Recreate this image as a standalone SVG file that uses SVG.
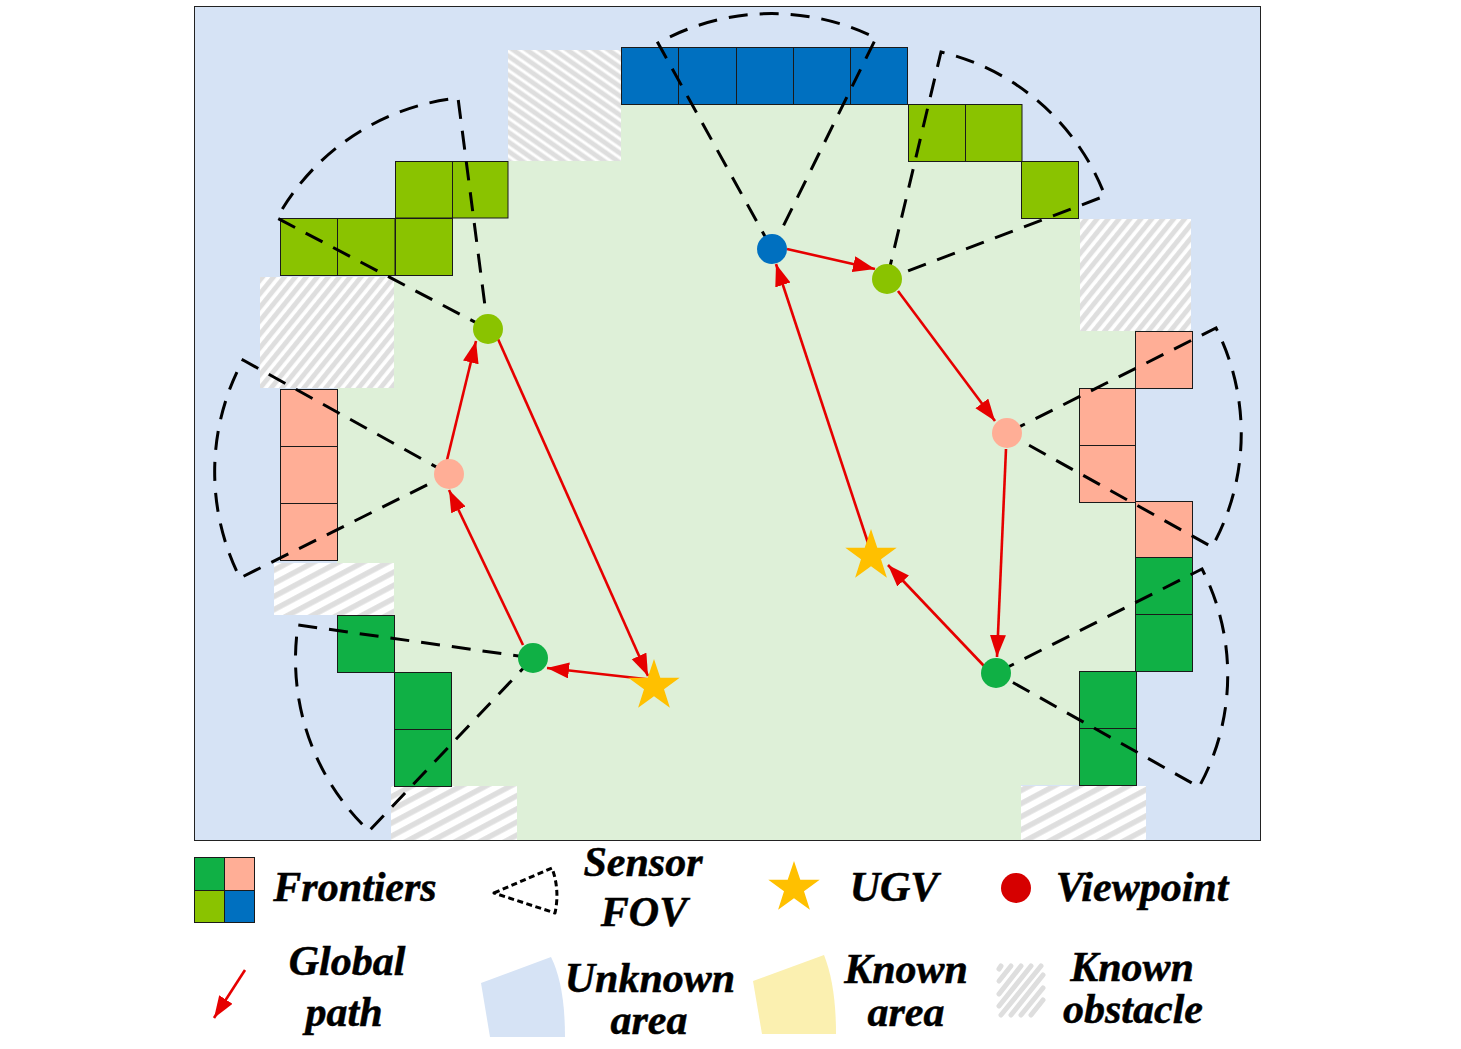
<svg xmlns="http://www.w3.org/2000/svg" width="1461" height="1049" viewBox="0 0 1461 1049">
<style>
.lbl{font-family:"Liberation Serif","Times New Roman",serif;font-weight:bold;font-style:italic;font-size:42px;fill:#000;stroke:#000;stroke-width:0.5;text-anchor:middle}
.fov{fill:none;stroke:#000;stroke-width:3;stroke-dasharray:19 12;stroke-dashoffset:-1}
.path{fill:none;stroke:#E60000;stroke-width:2.6;marker-end:url(#ah)}
.t{stroke:#1a1a1a;stroke-width:1}
.b{fill:#0070C0}.l{fill:#8AC300}.s{fill:#FFAE96}.g{fill:#10B045}
.hs{fill:url(#hatchS)}
.ht{fill:url(#hatchT)}
.hf{fill:url(#hatchF)}
.hl{stroke:#DEDEDE;stroke-width:5;stroke-linecap:round}
</style>
<defs>
<pattern id="hatchS" width="8.500" height="20" patternUnits="userSpaceOnUse" patternTransform="rotate(39)">
<rect width="8.500" height="20" fill="#fff"/><rect x="2" width="4.800" height="20" fill="#DEDEDE"/>
</pattern>
<pattern id="hatchT" width="7.800" height="20" patternUnits="userSpaceOnUse" patternTransform="rotate(-55)">
<rect width="7.800" height="20" fill="#fff"/><rect x="1.500" width="4.800" height="20" fill="#DEDEDE"/>
</pattern>
<pattern id="hatchF" width="11.600" height="20" patternUnits="userSpaceOnUse" patternTransform="rotate(62)">
<rect width="11.600" height="20" fill="#fff"/><rect x="3" width="5.400" height="20" fill="#DEDEDE"/>
</pattern>
<marker id="ah" markerUnits="userSpaceOnUse" markerWidth="24" markerHeight="17" refX="22" refY="8" orient="auto">
<path d="M0 0L22 8L0 16Z" fill="#E60000"/>
</marker>
<polygon id="star" points="0,-27 6.300,-8.300 25.700,-8.300 10,3.200 15.900,21.800 0,10.300 -15.900,21.800 -10,3.200 -25.700,-8.300 -6.300,-8.300" fill="#FFC000"/>
</defs>
<g id="map">
<rect x="194.500" y="6.500" width="1066" height="834" fill="#D6E3F5" stroke="#222" stroke-width="1"/>
<polygon points="621,104 908,104 908,161 1022,161 1022,218 1080,218 1080,331 1136,331 1136,671 1079,671 1079,785 1021,785 1021,840 517,840 517,786 451,786 451,672 394,672 394,563 337,563 337,388 394,388 394,275 452,275 452,218 508,218 508,161 621,161" fill="#DEF0D8"/>
</g>
<g id="obstacles">
<rect class="ht" x="508" y="50" width="113" height="111"/>
<rect class="hs" x="260" y="277" width="134" height="111"/>
<rect class="hf" x="274" y="563" width="120" height="52"/>
<rect class="hf" x="391" y="786" width="126" height="54"/>
<rect class="hf" x="1021" y="786" width="125" height="54"/>
<rect class="hs" x="1080" y="219" width="111" height="112"/>
</g>
<g id="frontiers">
<g class="b"><rect class="t" x="621.500" y="47.500" width="57" height="57"/><rect class="t" x="678.500" y="47.500" width="58" height="57"/><rect class="t" x="736.500" y="47.500" width="57" height="57"/><rect class="t" x="793.500" y="47.500" width="57" height="57"/><rect class="t" x="850.500" y="47.500" width="57" height="57"/></g>
<g class="l"><rect class="t" x="908.500" y="104.500" width="57" height="57"/><rect class="t" x="965.500" y="104.500" width="56.500" height="57"/><rect class="t" x="1021.500" y="161.500" width="57" height="57"/>
<rect class="t" x="395.500" y="161.500" width="57" height="56.500"/><rect class="t" x="452.500" y="161.500" width="55.500" height="56.500"/><rect class="t" x="280.500" y="218.500" width="57" height="57"/><rect class="t" x="337.500" y="218.500" width="57.500" height="57"/><rect class="t" x="395.500" y="218.500" width="57" height="57"/></g>
<g class="s"><rect class="t" x="280.500" y="389.500" width="57" height="57"/><rect class="t" x="280.500" y="446.500" width="57" height="57"/><rect class="t" x="280.500" y="503.500" width="57" height="57"/>
<rect class="t" x="1135.500" y="331.500" width="57" height="57"/><rect class="t" x="1079.500" y="388.500" width="56" height="57"/><rect class="t" x="1079.500" y="445.500" width="56" height="57"/><rect class="t" x="1135.500" y="501.500" width="57" height="57"/></g>
<g class="g"><rect class="t" x="337.500" y="615.500" width="57" height="57"/><rect class="t" x="394.500" y="672.500" width="57" height="57"/><rect class="t" x="394.500" y="729.500" width="57" height="57"/>
<rect class="t" x="1135.500" y="557.500" width="57" height="57"/><rect class="t" x="1135.500" y="614.500" width="57" height="57"/><rect class="t" x="1079.500" y="671.500" width="57" height="57"/><rect class="t" x="1079.500" y="728.500" width="57" height="57"/></g>
</g>
<g id="connectors">
<g id="fovs">
<path class="fov" d="M488 329L277 218A236 236 0 0 1 458 98Z"/>
<path class="fov" d="M449 474L243 360A235 235 0 0 0 240 578Z"/>
<path class="fov" d="M533 658L298 625A237 237 0 0 0 369 831Z"/>
<path class="fov" d="M772 249L658 43A235 235 0 0 1 876 38Z"/>
<path class="fov" d="M887 279L941 52A233 233 0 0 1 1105 196Z"/>
<path class="fov" d="M1007 433L1216 328A234 234 0 0 1 1212 547Z"/>
<path class="fov" d="M996 673L1202 569A232 232 0 0 1 1199 787Z"/>
</g>
<g id="paths">
<path class="path" d="M871 552L776 264"/>
<path class="path" d="M787 249L875 269"/>
<path class="path" d="M898 291L995 421"/>
<path class="path" d="M1006 449L997 657"/>
<path class="path" d="M985 667L888 565"/>
<path class="path" d="M654 680L547 668"/>
<path class="path" d="M523 645L449 490"/>
<path class="path" d="M447 460L476 341"/>
<path class="path" d="M498 339L648 676"/>
</g>
</g>
<use id="ugv1" href="#star" x="871" y="556"/>
<use id="ugv2" href="#star" x="654" y="686"/>
<g id="viewpoints">
<circle id="vp1" cx="772" cy="249" r="15" class="b"/>
<circle id="vp2" cx="887" cy="279" r="15" class="l"/>
<circle id="vp3" cx="1007" cy="433" r="15" class="s"/>
<circle id="vp4" cx="996" cy="673" r="15" class="g"/>
<circle id="vp5" cx="533" cy="658" r="15" class="g"/>
<circle id="vp6" cx="449" cy="474" r="15" class="s"/>
<circle id="vp7" cx="488" cy="329" r="15" class="l"/>
</g>
<g id="legend">
<g id="lg-frontiers">
<rect class="t g" x="194.500" y="857.500" width="30" height="33"/><rect class="t s" x="224.500" y="857.500" width="30" height="33"/><rect class="t l" x="194.500" y="890.500" width="30" height="32"/><rect class="t b" x="224.500" y="890.500" width="30" height="32"/>
<text class="lbl" x="355" y="901">Frontiers</text>
</g>
<g id="lg-fov">
<path d="M494 893L552 868Q560 890 555 913Z" fill="none" stroke="#000" stroke-width="3" stroke-dasharray="6 3.500" stroke-linejoin="round"/>
<text class="lbl" x="643" y="876">Sensor</text><text class="lbl" x="644" y="926">FOV</text>
</g>
<g id="lg-ugv"><use href="#star" x="794" y="888"/><text class="lbl" x="894" y="901">UGV</text></g>
<g id="lg-vp"><circle cx="1016" cy="888" r="15" fill="#D60000"/><text class="lbl" x="1142" y="901">Viewpoint</text></g>
<g id="lg-path"><path class="path" d="M245 970L214 1018"/><text class="lbl" x="347" y="975">Global</text><text class="lbl" x="344" y="1026">path</text></g>
<g id="lg-unknown"><path d="M481 983L551 957Q565 985 565 1037H490Z" fill="#D6E3F5"/><text class="lbl" x="650" y="992">Unknown</text><text class="lbl" x="649" y="1034">area</text></g>
<g id="lg-known"><path d="M753 981L824 955Q836 985 836 1034H762Z" fill="#FBF0B0"/><text class="lbl" x="906" y="983">Known</text><text class="lbl" x="906" y="1026">area</text></g>
<g id="lg-obst"><g class="hl">
<line x1="999" y1="969" x2="1001" y2="966"/><line x1="999" y1="981" x2="1011" y2="966"/><line x1="999" y1="994" x2="1021" y2="966"/><line x1="999" y1="1006" x2="1031" y2="966"/><line x1="1001" y1="1015" x2="1041" y2="966"/><line x1="1011" y1="1015" x2="1043" y2="975"/><line x1="1021" y1="1015" x2="1043" y2="988"/><line x1="1031" y1="1015" x2="1043" y2="1000"/></g>
<text class="lbl" x="1132" y="981">Known</text><text class="lbl" x="1133" y="1023">obstacle</text></g>
</g>
</svg>
